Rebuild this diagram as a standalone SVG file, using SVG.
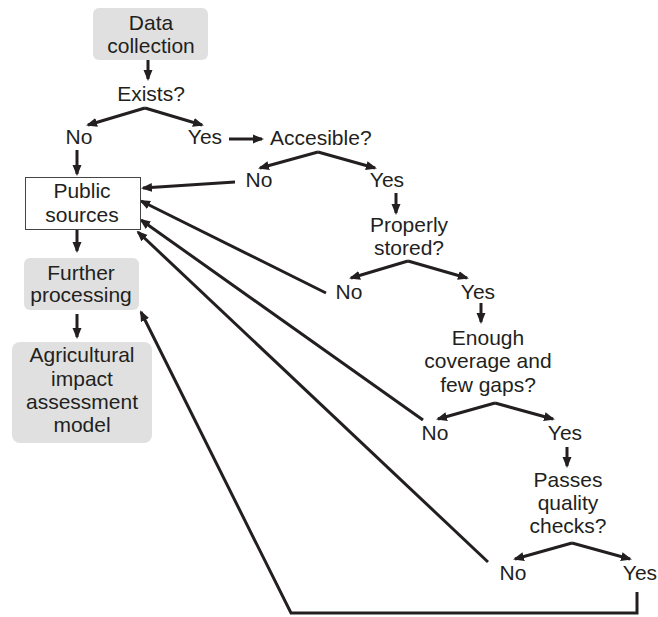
<svg xmlns="http://www.w3.org/2000/svg" width="658" height="617" viewBox="0 0 658 617">
<defs>
<style>
text{font-family:"Liberation Sans",Arial,sans-serif;font-size:21px;fill:#231f20;text-anchor:middle}
.ln{stroke:#231f20;stroke-width:3;fill:none}
.ar{marker-end:url(#ah)}
.gbox{fill:#e0e0e0;stroke:none}
.wbox{fill:#ffffff;stroke:#444;stroke-width:1}
</style>
<marker id="ah" markerUnits="userSpaceOnUse" markerWidth="11" markerHeight="10" refX="9" refY="5" orient="auto">
<path d="M0,0.5 L11,5 L0,9.5 z" fill="#231f20"/>
</marker>
</defs>
<rect width="658" height="617" fill="#fff"/>
<g id="connectors">
<line class="ln ar" x1="148" y1="60" x2="148" y2="79"/>
<polyline class="ln ar" points="145,108 88,125"/>
<polyline class="ln ar" points="145,108 202,125"/>
<line class="ln ar" x1="77" y1="150" x2="77" y2="174"/>
<line class="ln ar" x1="229" y1="139" x2="262" y2="139"/>
<line class="ln ar" x1="318" y1="152" x2="260" y2="168"/>
<line class="ln ar" x1="318" y1="152" x2="375" y2="168"/>
<line class="ln ar" x1="235" y1="182" x2="143" y2="188"/>
<line class="ln ar" x1="396" y1="193" x2="396" y2="213"/>
<line class="ln ar" x1="408" y1="261" x2="351" y2="278"/>
<line class="ln ar" x1="408" y1="261" x2="467" y2="278"/>
<line class="ln ar" x1="326" y1="293" x2="141" y2="201"/>
<line class="ln ar" x1="481" y1="303" x2="481" y2="322"/>
<line class="ln ar" x1="495" y1="403" x2="438" y2="419"/>
<line class="ln ar" x1="495" y1="403" x2="553" y2="419"/>
<line class="ln ar" x1="423" y1="420" x2="141" y2="220"/>
<line class="ln ar" x1="567" y1="447" x2="567" y2="466"/>
<line class="ln ar" x1="572" y1="543" x2="515" y2="559"/>
<line class="ln ar" x1="572" y1="543" x2="630" y2="559"/>
<line class="ln ar" x1="488" y1="562" x2="138" y2="232"/>
<polyline class="ln ar" points="637,592 637,613 291,613 141,312"/>
<line class="ln ar" x1="77" y1="230" x2="77" y2="251"/>
<line class="ln ar" x1="77" y1="314" x2="77" y2="337"/>
</g>
<g id="data-collection">
<rect class="gbox" x="93" y="8" width="115" height="52" rx="6"/>
<text x="151" y="30">Data</text>
<text x="151" y="53">collection</text>
</g>
<g id="exists"><text x="151" y="101">Exists?</text></g>
<g id="no1"><text x="79" y="144">No</text></g>
<g id="yes1"><text x="205" y="144">Yes</text></g>
<g id="accessible"><text x="270" y="145" style="text-anchor:start">Accesible?</text></g>
<g id="no2"><text x="259" y="187">No</text></g>
<g id="yes2"><text x="387" y="187">Yes</text></g>
<g id="public-sources">
<rect class="wbox" x="25.5" y="177.5" width="115" height="52"/>
<text x="82" y="198">Public</text>
<text x="82" y="222">sources</text>
</g>
<g id="further-processing">
<rect class="gbox" x="24" y="258" width="115" height="52" rx="6"/>
<text x="81" y="280">Further</text>
<text x="81" y="302">processing</text>
</g>
<g id="agricultural-model">
<rect class="gbox" x="12" y="342" width="140" height="101" rx="8"/>
<text x="82" y="362">Agricultural</text>
<text x="82" y="386">impact</text>
<text x="82" y="409">assessment</text>
<text x="82" y="432">model</text>
</g>
<g id="properly-stored">
<text x="409" y="232">Properly</text>
<text x="409" y="255">stored?</text>
</g>
<g id="no3"><text x="349" y="299">No</text></g>
<g id="yes3"><text x="478" y="299">Yes</text></g>
<g id="enough-coverage">
<text x="488" y="345">Enough</text>
<text x="488" y="368">coverage and</text>
<text x="488" y="392">few gaps?</text>
</g>
<g id="no4"><text x="435" y="440">No</text></g>
<g id="yes4"><text x="565" y="440">Yes</text></g>
<g id="passes-quality">
<text x="568" y="487">Passes</text>
<text x="568" y="510">quality</text>
<text x="568" y="533">checks?</text>
</g>
<g id="no5"><text x="513" y="580">No</text></g>
<g id="yes5"><text x="640" y="580">Yes</text></g>
</svg>
